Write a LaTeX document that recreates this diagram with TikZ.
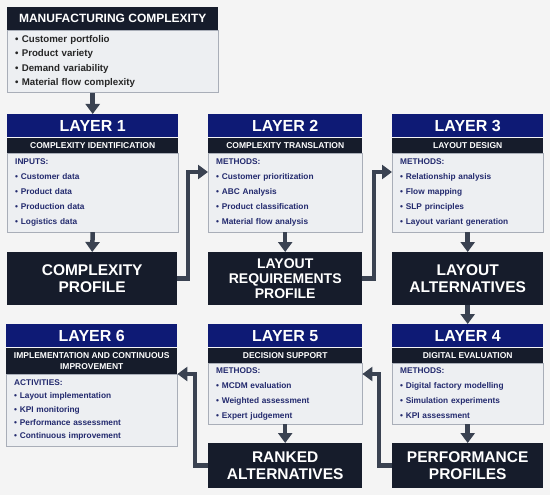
\documentclass[tikz,border=0pt]{standalone}
\usepackage{fontspec}
\setmainfont{Liberation Sans}
\usetikzlibrary{positioning,arrows.meta}

\definecolor{hdblue}{HTML}{0E1A75}
\definecolor{barnavy}{HTML}{161C2B}
\definecolor{bodygrey}{HTML}{EDEFF2}
\definecolor{edgegrey}{HTML}{A9AEB8}
\definecolor{txtnavy}{HTML}{232A6E}
\definecolor{arrowgrey}{HTML}{3A4251}
\definecolor{bggrey}{HTML}{F4F4F4}

\tikzset{
  hdr/.style={fill=hdblue, text=white, font=\bfseries\fontsize{16}{16}\selectfont,
    minimum width=#1, minimum height=23pt, inner sep=0pt, anchor=north west},
  sub/.style={fill=barnavy, text=white, font=\bfseries\fontsize{8.5}{11}\selectfont,
    minimum width=#1, minimum height=15pt, inner sep=0pt, align=center},
  body/.style={fill=bodygrey, draw=edgegrey, text=txtnavy, text width=#1,
    font=\bfseries\fontsize{8.3}{15}\selectfont, inner xsep=8pt, inner ysep=0pt,
    minimum height=79pt, align=left},
  outbox/.style={fill=barnavy, text=white, font=\bfseries\fontsize{15.5}{17.7}\selectfont,
    minimum width=#1, minimum height=53pt, inner sep=0pt, align=center, anchor=north west},
  flow/.style={draw=arrowgrey, line width=4.5pt, -{Triangle[width=14pt,length=10pt]}}
}

\begin{document}
\begin{tikzpicture}[x=1pt,y=-1pt]
  \fill[bggrey] (0,0) rectangle (550,495);

  \node[hdr=211, fill=barnavy, font=\bfseries\fontsize{12}{12}\selectfont] (tophd) at (7,7) {MANUFACTURING COMPLEXITY};
  \node[body=195, minimum height=62pt, text=black!85, font=\bfseries\fontsize{9.7}{14.3}\selectfont] (topbd) [below=0pt of tophd]
    {• Customer portfolio\\• Product variety\\• Demand variability\\• Material flow complexity};

  \node[hdr=171] (hd1) at (7,114) {LAYER 1};
  \node[sub=171] (sb1) [below=0pt of hd1] {COMPLEXITY IDENTIFICATION};
  \node[body=155] (bd1) [below=0pt of sb1]
    {INPUTS:\\• Customer data\\• Product data\\• Production data\\• Logistics data};

  \node[hdr=154] (hd2) at (208,114) {LAYER 2};
  \node[sub=154] (sb2) [below=0pt of hd2] {COMPLEXITY TRANSLATION};
  \node[body=138] (bd2) [below=0pt of sb2]
    {METHODS:\\• Customer prioritization\\• ABC Analysis\\• Product classification\\• Material flow analysis};

  \node[hdr=151] (hd3) at (392,114) {LAYER 3};
  \node[sub=151] (sb3) [below=0pt of hd3] {LAYOUT DESIGN};
  \node[body=135] (bd3) [below=0pt of sb3]
    {METHODS:\\• Relationship analysis\\• Flow mapping\\• SLP principles\\• Layout variant generation};

  \node[outbox=170] (out1) at (7,252) {COMPLEXITY\\PROFILE};
  \node[outbox=154, font=\bfseries\fontsize{14}{15.3}\selectfont] (out2) at (208,252) {LAYOUT\\REQUIREMENTS\\PROFILE};
  \node[outbox=151] (out3) at (392,252) {LAYOUT\\ALTERNATIVES};

  \node[hdr=171] (hd6) at (6,324) {LAYER 6};
  \node[sub=171, minimum height=26pt] (sb6) [below=0pt of hd6] {IMPLEMENTATION AND CONTINUOUS\\IMPROVEMENT};
  \node[body=155, minimum height=72pt, font=\bfseries\fontsize{8.3}{13.3}\selectfont] (bd6) [below=0pt of sb6]
    {ACTIVITIES:\\• Layout implementation\\• KPI monitoring\\• Performance assessment\\• Continuous improvement};

  \node[hdr=154] (hd5) at (208,324) {LAYER 5};
  \node[sub=154] (sb5) [below=0pt of hd5] {DECISION SUPPORT};
  \node[body=138, minimum height=61pt] (bd5) [below=0pt of sb5]
    {METHODS:\\• MCDM evaluation\\• Weighted assessment\\• Expert judgement};

  \node[hdr=151] (hd4) at (392,324) {LAYER 4};
  \node[sub=151] (sb4) [below=0pt of hd4] {DIGITAL EVALUATION};
  \node[body=135, minimum height=61pt] (bd4) [below=0pt of sb4]
    {METHODS:\\• Digital factory modelling\\• Simulation experiments\\• KPI assessment};

  \node[outbox=154, minimum height=45pt] (out5) at (208,443) {RANKED\\ALTERNATIVES};
  \node[outbox=151, minimum height=45pt] (out4) at (392,443) {PERFORMANCE\\PROFILES};

  \coordinate (j1) at (188,172);
  \coordinate (j2) at (374,172);
  \coordinate (j3) at (379,374);
  \coordinate (j4) at (195,374);

  \draw[flow] (topbd.south -| hd1.north) -- (hd1.north);
  \draw[flow] (bd1.south) -- (out1.north);
  \draw[flow] (out1.east) -| (j1) -- (j1 -| bd2.west);
  \draw[flow] (bd2.south) -- (out2.north);
  \draw[flow] (out2.east) -| (j2) -- (j2 -| bd3.west);
  \draw[flow] (bd3.south) -- (out3.north);
  \draw[flow] (out3.south) -- (hd4.north);
  \draw[flow] (bd4.south) -- (out4.north);
  \draw[flow] (out4.west) -| (j3) -- (j3 -| bd5.east);
  \draw[flow] (bd5.south) -- (out5.north);
  \draw[flow] (out5.west) -| (j4) -- (j4 -| bd6.east);
\end{tikzpicture}
\end{document}
